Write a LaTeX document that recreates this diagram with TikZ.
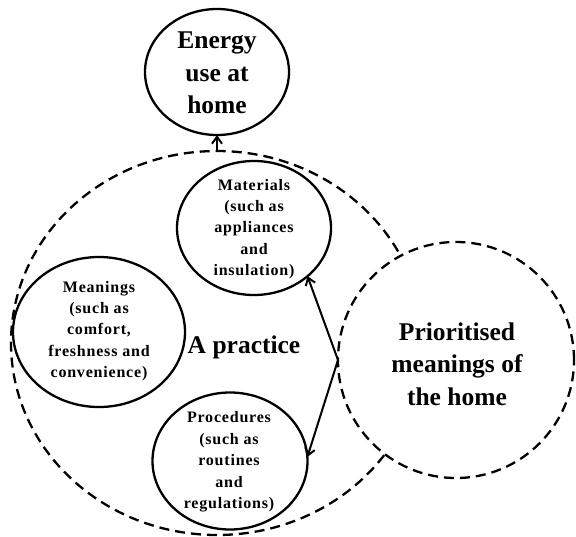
\documentclass[tikz,border=0pt]{standalone}
\usepackage{fontspec}
\setmainfont{Liberation Serif}
\newfontfamily\spacedserif[LetterSpace=5]{Liberation Serif}
\usetikzlibrary{shapes.geometric,arrows.meta}
\begin{document}
\begin{tikzpicture}[x=1pt,y=-1pt,
  circ/.style={ellipse, draw, line width=2.3pt, inner sep=0pt, outer sep=0pt},
  dcirc/.style={circ, dash pattern=on 10pt off 6pt},
  bigtext/.style={font=\bfseries\fontsize{25.5}{32.5}\selectfont, align=center, inner sep=0pt},
  smalltext/.style={font=\spacedserif\bfseries\fontsize{16}{21.4}\selectfont, align=center, inner sep=0pt},
  arr/.style={line width=2pt, -{Straight Barb[length=7pt,width=10pt,line width=2pt]}}]
\useasboundingbox (0,0) rectangle (576,536);
% big dashed practice circle
\node[dcirc, minimum width=412pt, minimum height=384pt] (big) at (217,343) {};
% prioritised meanings
\node[dcirc, fill=white, minimum width=236pt, minimum height=236pt] (prio) at (456,360) {};
% energy use
\node[circ, minimum width=144pt, minimum height=126pt] (energy) at (217,72) {};
% three elements
\node[circ, minimum width=154pt, minimum height=134pt] (mat) at (254,228) {};
\node[circ, minimum width=172pt, minimum height=150pt] (mean) at (99,332) {};
\node[circ, minimum width=155pt, minimum height=137pt] (proc) at (230,461) {};
% texts
\node[bigtext] (tenergy) at (217,73) {Energy\\use at\\home};
\node[bigtext] (tprio) at (457,364) {Prioritised\\meanings of\\the home};
\node[bigtext] (tprac) at (244,347) {A practice};
\node[smalltext] (tmat) at (254,229) {Materials\\(such as\\appliances\\and\\insulation)};
\node[smalltext] (tmean) at (99,331) {Meanings\\(such as\\comfort,\\freshness and\\convenience)};
\node[smalltext] (tproc) at (229,462) {Procedures\\(such as\\routines\\and\\regulations)};
% connectors
\draw[arr] (big.north) -- (energy.south);
\draw[arr] (prio.west) -- (mat.-42);
\draw[arr] (prio.west) -- (proc.3);
\end{tikzpicture}
\end{document}
